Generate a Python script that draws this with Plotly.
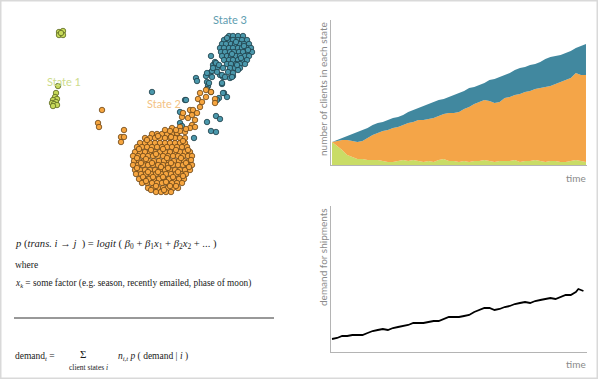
import plotly.graph_objects as go

# ---------------- scatter (embedding of clients) ----------------
state1_x = [59, 63, 59, 63, 61, 58, 56, 55, 57, 53, 56, 52, 54, 57, 53]
state1_y = [32, 31, 35, 35, 33, 86, 93, 97, 99, 100, 102, 103, 104, 105, 106]

state3_blob_rows = [
    (36, [229, 233, 238, 243]),
    (40, [224, 229, 233, 238, 242, 247]),
    (44, [222, 226, 231, 235, 240, 244, 249]),
    (48, [220, 224, 229, 233, 238, 242, 247, 251]),
    (52, [221, 225, 230, 234, 239, 243, 248, 252]),
    (56, [222, 227, 231, 236, 240, 245, 249]),
    (60, [224, 229, 233, 238, 242, 247]),
    (64, [227, 231, 236, 240, 245]),
    (68, [230, 235, 240]),
]
state3_extra_x = [152, 180, 180, 182, 185, 194, 196, 197, 207, 206, 208, 207, 210, 212, 213, 211,
                  215, 217, 220, 222, 219, 224, 227, 207, 211, 216, 216, 220, 223, 230, 233, 238,
                  237, 216, 219, 213, 223, 217, 228, 233, 207, 212, 222, 225, 232, 209, 222, 211,
                  223, 217, 186, 227, 236, 244, 232, 241, 248]
state3_extra_y = [92, 112, 123, 126, 100, 138, 78, 81, 82, 76, 86, 89, 73, 71, 65, 56,
                  62, 68, 75, 84, 98, 93, 97, 122, 131, 132, 116, 119, 77, 78, 76, 70,
                  65, 63, 65, 68, 68, 72, 72, 73, 73, 77, 75, 77, 77, 83, 83, 92,
                  93, 100, 100, 38, 42, 46, 54, 58, 50]

state2_disk_rows = [
    (134, [152, 157, 162, 167, 172, 177]),
    (138, [145, 150, 155, 160, 165, 170, 175, 180, 185]),
    (143, [140, 145, 150, 155, 160, 165, 170, 175, 180, 185]),
    (147, [137, 142, 147, 152, 157, 162, 167, 172, 177, 182, 187]),
    (152, [135, 140, 145, 150, 155, 160, 165, 170, 175, 180, 185, 190]),
    (156, [133, 138, 143, 148, 153, 158, 163, 168, 173, 178, 183, 188, 192]),
    (161, [134, 139, 144, 149, 154, 159, 164, 169, 174, 179, 184, 189]),
    (165, [133, 138, 143, 148, 153, 158, 163, 168, 173, 178, 183, 188, 192]),
    (170, [135, 140, 145, 150, 155, 160, 165, 170, 175, 180, 185, 190]),
    (174, [136, 141, 146, 151, 156, 161, 166, 171, 176, 181, 186]),
    (179, [139, 144, 149, 154, 159, 164, 169, 174, 179, 184]),
    (183, [142, 147, 152, 157, 162, 167, 172, 177, 182]),
    (188, [148, 153, 158, 163, 168, 173, 178]),
    (192, [156, 161, 166, 171]),
]
state2_extra_x = [102, 98, 99, 124, 121, 124, 121, 172, 177, 180, 185, 182, 183, 190, 193, 188,
                  192, 195, 190, 197, 192, 195, 200, 198, 202, 200, 206, 206, 211, 215, 215,
                  180, 186, 176, 170, 165,
                  147, 158, 171, 183, 139, 151, 163, 176, 188, 137, 146, 156, 167, 181, 191,
                  141, 152, 161, 171, 186, 137, 148, 158, 168, 178, 189, 143, 153, 163, 173,
                  183, 146, 156, 166, 176, 151, 164, 170]
state2_extra_y = [110, 123, 127, 130, 137, 137, 142, 128, 133, 127, 132, 117, 113, 110, 110, 118,
                  125, 127, 128, 113, 115, 120, 107, 99, 102, 93, 90, 97, 92, 99, 103,
                  131, 129, 130, 131, 130,
                  140, 136, 137, 141, 149, 150, 149, 150, 150, 158, 159, 154, 158, 158, 160,
                  163, 163, 167, 163, 163, 168, 172, 172, 168, 172, 167, 177, 177, 177, 177,
                  176, 181, 186, 182, 186, 190, 190, 186]

# ---------------- clients per state over time ----------------
time = list(range(0, 101, 2))
state1_count = [23, 19, 15, 10, 8, 6, 6, 5, 5, 5, 4, 3, 3, 4, 5, 4, 5, 4, 3, 4, 3, 5, 6, 4, 4, 3,
                4, 3, 4, 4, 5, 4, 3, 4, 4, 4, 5, 3, 4, 4, 5, 4, 3, 4, 4, 3, 3, 4, 5, 4, 3]
state2_count = [0, 5, 10, 15, 16, 17, 18, 22, 25, 27, 30, 32, 34, 34, 35, 38, 38, 41, 42, 42, 44,
                44, 45, 48, 48, 50, 52, 55, 57, 59, 60, 60, 59, 59, 63, 64, 65, 68, 69, 70, 71,
                73, 75, 75, 77, 80, 82, 83, 87, 86, 87]
state3_count = [0, 1, 2, 4, 7, 10, 11, 10, 10, 10, 9, 10, 10, 10, 10, 11, 12, 12, 14, 15, 16, 16,
                15, 16, 18, 19, 18, 19, 17, 17, 17, 21, 24, 25, 23, 24, 25, 26, 25, 26, 25, 26,
                28, 29, 28, 27, 27, 27, 25, 29, 31]

# ---------------- demand over time ----------------
demand_time = list(range(0, 97, 2)) + [97, 98, 99]
demand = [13, 14, 16, 16, 17, 17, 17, 19, 21, 22, 23, 22, 24, 25, 26, 27, 29, 29, 29, 30, 31,
          31, 33, 35, 35, 35, 36, 37, 40, 42, 44, 44, 42, 43, 45, 46, 48, 49, 50, 49, 51, 52,
          53, 54, 53, 55, 57, 57, 60, 63, 62, 61]

W, H = 598, 379
C_GREEN, C_ORANGE, C_BLUE = "#c9dc66", "#f4a548", "#41889f"
AX = "#b4b4b4"
LBL = "#8a8a8a"


def expand(rows):
    xs, ys = [], []
    for y, row in rows:
        for x in row:
            xs.append(x)
            ys.append(y)
    return xs, ys


fig = go.Figure()

bx, by = expand(state3_blob_rows)
ox, oy = expand(state2_disk_rows)


def pts(x, y, fill, edge):
    return go.Scatter(x=x, y=y, mode="markers", xaxis="x", yaxis="y", showlegend=False,
                      hoverinfo="skip",
                      marker=dict(size=5.5, color=fill, line=dict(color=edge, width=0.8)))


fig.add_trace(pts(state1_x, state1_y, "#c6d95a", "#5b6621"))
fig.add_trace(pts(bx + state3_extra_x, by + state3_extra_y, "#4a97ab", "#1d3c46"))
fig.add_trace(pts(ox + state2_extra_x, oy + state2_extra_y, "#f6a53f", "#6a4518"))

for name, vals, col in [("State 1", state1_count, C_GREEN),
                        ("State 2", state2_count, C_ORANGE),
                        ("State 3", state3_count, C_BLUE)]:
    fig.add_trace(go.Scatter(x=time, y=vals, mode="lines", stackgroup="one", name=name,
                             line=dict(width=0, color=col), fillcolor=col,
                             xaxis="x2", yaxis="y2", showlegend=False))

fig.add_trace(go.Scatter(x=demand_time, y=demand, mode="lines", line=dict(color="black", width=1.8),
                         xaxis="x3", yaxis="y3", showlegend=False))

hidden = dict(visible=False, fixedrange=True)
plain = dict(showgrid=False, zeroline=False, showticklabels=False, ticks="", showline=True,
             linecolor=AX, linewidth=1, fixedrange=True)

fig.update_layout(
    width=W, height=H, margin=dict(l=0, r=0, t=0, b=0),
    paper_bgcolor="white", plot_bgcolor="white",
    xaxis=dict(domain=[0, 300 / W], range=[0, 300], **hidden),
    yaxis=dict(domain=[1 - 215 / H, 1], range=[215, 0], **hidden),
    xaxis2=dict(domain=[331 / W, 587 / W], range=[-0.4, 100.4], anchor="y2", **plain),
    yaxis2=dict(domain=[1 - 165 / H, 1 - 20 / H], range=[0, 145], anchor="x2", **plain),
    xaxis3=dict(domain=[331 / W, 587 / W], range=[-0.4, 100.4], anchor="y3", **plain),
    yaxis3=dict(domain=[1 - 352 / H, 1 - 206 / H], range=[0, 146], anchor="x3", **plain),
    font=dict(family="Lato", size=10, color=LBL),
)

ann = []
ann.append(dict(text="State 1", x=64, y=81, xref="x", yref="y", showarrow=False,
                font=dict(family="Lato", size=11, color="#cddc8c")))
ann.append(dict(text="State 2", x=164, y=103, xref="x", yref="y", showarrow=False,
                font=dict(family="Lato", size=11, color="#f3c283")))
ann.append(dict(text="State 3", x=230, y=19, xref="x", yref="y", showarrow=False,
                font=dict(family="Lato", size=11, color="#5e9db0")))

ann.append(dict(text="number of clients in each state", x=323 / W, y=1 - 20 / H, xref="paper",
                yref="paper", textangle=-90, xanchor="center", yanchor="top", showarrow=False,
                font=dict(family="Lato", size=10, color=LBL)))
ann.append(dict(text="demand for shipments", x=323 / W, y=1 - 206 / H, xref="paper",
                yref="paper", textangle=-90, xanchor="center", yanchor="top", showarrow=False,
                font=dict(family="Lato", size=10, color=LBL)))
for yy in (178, 364):
    ann.append(dict(text="time", x=588 / W, y=1 - yy / H, xref="paper", yref="paper",
                    xanchor="right", yanchor="middle", showarrow=False,
                    font=dict(family="Lato", size=10, color=LBL)))

SERIF = "Liberation Serif"
TC = "#1a1a1a"


def txt(s, x, y, size=9.5, anchor="left"):
    ann.append(dict(text=s, x=x / W, y=1 - y / H, xref="paper", yref="paper", xanchor=anchor,
                    yanchor="middle", showarrow=False, font=dict(family=SERIF, size=size, color=TC)))


S = "&nbsp;"
txt(f"<i>p</i>{S}(<i>trans.</i> <i>i</i> → <i>j</i>{S} ){S}={S}<i>logit</i>{S}({S}<i>β</i><sub>0</sub>{S}+{S}"
    f"<i>β</i><sub>1</sub><i>x</i><sub>1</sub>{S}+{S}<i>β</i><sub>2</sub><i>x</i><sub>2</sub>{S}+{S}...{S})",
    13, 244, size=10.6)
txt("where", 13, 265)
txt("<i>x</i><sub><i>k</i></sub> = some factor (e.g. season, recently emailed, phase of moon)", 13, 283,
    size=9.3)
txt("demand<sub><i>t</i></sub> =", 13, 356)
txt("Σ", 83, 354, size=11, anchor="center")
txt("client states <i>i</i>", 88, 367, size=7.5, anchor="center")
txt(f"<i>n</i><sub><i>i,t</i></sub>{S}<i>p</i>{S}({S}demand | <i>i</i>{S})", 116, 356)

fig.update_layout(annotations=ann)
fig.update_layout(shapes=[
    dict(type="line", xref="paper", yref="paper", x0=14 / W, x1=274 / W, y0=1 - 318 / H,
         y1=1 - 318 / H, line=dict(color="#333333", width=1)),
    dict(type="rect", xref="paper", yref="paper", x0=0, x1=1, y0=0, y1=1,
         line=dict(color="#d9d9d9", width=3)),
])

fig.write_html("out.html", config={"displayModeBar": False},
               post_script="document.body.style.margin='0px';")
